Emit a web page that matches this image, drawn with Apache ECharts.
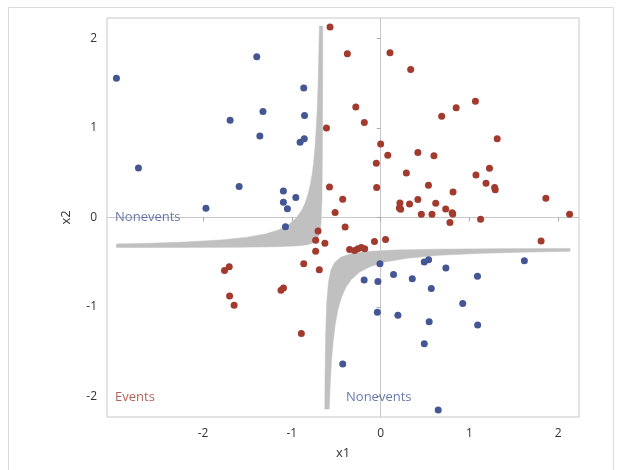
<!DOCTYPE html>
<html><head><meta charset="utf-8">
<script src="https://cdn.jsdelivr.net/npm/echarts@6/dist/echarts.min.js"></script>
<style>html,body{margin:0;padding:0;background:#fff}#c{width:624px;height:470px}</style>
</head><body><div id="c"></div>
<script>
// ---- data ----
const xTicks = [-2, -1, 0, 1, 2];
const yTicks = [-2, -1, 0, 1, 2];

const nonevents = [
  [-2.975, 1.555], [-2.727, 0.552], [-1.395, 1.797], [-1.695, 1.086], [-1.325, 1.183],
  [-1.36, 0.911], [-0.866, 1.447], [-0.857, 1.14], [-0.907, 0.84], [-0.86, 0.879],
  [-1.593, 0.344], [-1.967, 0.101], [-1.095, 0.294], [-1.095, 0.168], [-0.955, 0.222],
  [-1.05, 0.095], [-1.072, -0.105],
  [-0.008, -0.52], [-0.186, -0.701], [-0.031, -0.716], [0.145, -0.64], [0.356, -0.688],
  [0.491, -0.5], [0.54, -0.474], [0.57, -0.795], [0.734, -0.567], [1.09, -0.658],
  [1.618, -0.485], [0.924, -0.963], [-0.037, -1.06], [0.194, -1.096], [0.546, -1.168],
  [1.092, -1.205], [0.491, -1.415], [-0.427, -1.64], [0.648, -2.156]
];

const events = [
  [-0.57, 2.13], [-0.375, 1.83], [0.105, 1.84], [0.338, 1.655], [-0.28, 1.235],
  [-0.184, 1.06], [-0.61, 1.0], [0.687, 1.13], [0.85, 1.225], [1.067, 1.3],
  [1.312, 0.88], [0.0, 0.82], [0.08, 0.695], [-0.049, 0.605], [0.419, 0.725],
  [0.6, 0.69], [0.289, 0.495], [1.073, 0.475], [1.225, 0.55], [1.186, 0.383],
  [1.283, 0.335], [1.29, 0.31], [0.538, 0.36], [0.815, 0.285], [-0.045, 0.335],
  [-0.576, 0.34], [-0.427, 0.202], [0.217, 0.162], [0.21, 0.105], [0.225, 0.09],
  [0.325, 0.15], [0.419, 0.2], [0.62, 0.157], [0.458, 0.036], [0.578, 0.036],
  [0.732, 0.093], [0.805, 0.052], [0.812, 0.038], [0.78, -0.058], [1.125, -0.022],
  [1.86, 0.215], [2.127, 0.036], [1.806, -0.263], [-0.513, 0.054], [-0.4, -0.108],
  [-0.705, -0.153], [-0.732, -0.256], [-0.628, -0.29], [-0.732, -0.38], [-0.07, -0.27],
  [0.055, -0.248], [-0.35, -0.36], [-0.293, -0.372], [-0.256, -0.352], [-0.218, -0.336],
  [-0.18, -0.35], [-0.691, -0.587], [-0.866, -0.518], [-1.758, -0.595], [-1.705, -0.553],
  [-1.701, -0.879], [-1.65, -0.982], [-1.122, -0.815], [-1.094, -0.79], [-0.893, -1.3]
];

// gray band outlines (vertices)
const bandUpperLeft = [
  [-0.690, 2.14], [-0.697, 1.8], [-0.704, 1.5], [-0.715, 1.2], [-0.725, 1.0],
  [-0.738, 0.8], [-0.756, 0.6], [-0.772, 0.48], [-0.793, 0.36], [-0.817, 0.26],
  [-0.85, 0.16], [-0.886, 0.084], [-0.95, -0.007], [-1.03, -0.077], [-1.15, -0.14],
  [-1.3, -0.186], [-1.5, -0.222], [-1.8, -0.253], [-2.2, -0.275], [-2.6, -0.289],
  [-2.974, -0.297],
  [-2.974, -0.337], [-2.2, -0.336], [-1.6, -0.334], [-1.2, -0.329], [-0.95, -0.32],
  [-0.82, -0.305], [-0.75, -0.28], [-0.71, -0.24], [-0.69, -0.19], [-0.68, -0.14],
  [-0.672, -0.067], [-0.661, 0.2], [-0.656, 0.7], [-0.653, 1.4], [-0.652, 2.14]
];
const bandLowerRight = [
  [-0.579, -2.144], [-0.567, -1.85], [-0.553, -1.6], [-0.535, -1.39], [-0.512, -1.2],
  [-0.481, -1.03], [-0.44, -0.89], [-0.39, -0.78], [-0.33, -0.695], [-0.24, -0.615],
  [-0.12, -0.552], [0.05, -0.499], [0.3, -0.457], [0.65, -0.425], [1.1, -0.403],
  [1.6, -0.389], [2.132, -0.380],
  [2.132, -0.347], [1.3, -0.350], [0.6, -0.356], [0.15, -0.365], [-0.15, -0.381],
  [-0.33, -0.405], [-0.45, -0.445], [-0.52, -0.507], [-0.56, -0.59], [-0.587, -0.717],
  [-0.607, -0.95], [-0.619, -1.3], [-0.626, -1.75], [-0.629, -2.144]
];

const labelTexts = ['Nonevents', 'Events', 'Nonevents'];
const labelX = [-2.99, -2.99, -0.39];
const labelY = [0.0, -2.01, -2.01];
const labelGroup = ['non', 'ev', 'non'];

// ---- styles ----
const BLUE = '#445694', RED = '#A23A2E', BAND = '#c0c0c0';
const FONT = '"Open Sans", "DejaVu Sans", sans-serif';
const AXC = '#c8c8c8';

function bandSeries(pts) {
  return {
    type: 'custom', silent: true, z: 1, clip: true,
    data: [pts[0]],
    renderItem: function (params, api) {
      return {
        type: 'polygon',
        shape: { points: pts.map(function (p) { return api.coord(p); }) },
        style: { fill: BAND, stroke: BAND, lineWidth: 0.5 }
      };
    }
  };
}

const chart = echarts.init(document.getElementById('c'), null, { renderer: 'canvas' });
chart.setOption({
  animation: false,
  backgroundColor: '#fff',
  graphic: [{
    type: 'rect', silent: true, z: -10,
    shape: { x: 8.5, y: 7.5, width: 605, height: 480 },
    style: { fill: 'none', stroke: '#dadada', lineWidth: 1 }
  }],
  grid: { left: 107, top: 18, width: 472, height: 399, show: true, borderColor: AXC, borderWidth: 1 },
  xAxis: {
    type: 'value', min: -3.081, max: 2.233,
    name: 'x1', nameLocation: 'middle', nameGap: 30,
    nameTextStyle: { fontFamily: FONT, fontSize: 13, color: '#333' },
    axisLine: { show: true, lineStyle: { color: AXC } },
    axisTick: { show: true, length: 4, lineStyle: { color: '#aaa' }, customValues: xTicks },
    axisLabel: { customValues: xTicks, fontFamily: FONT, fontSize: 12, color: '#333', margin: 11 },
    splitLine: { show: false }
  },
  yAxis: {
    type: 'value', min: -2.233, max: 2.23,
    name: 'x2', nameLocation: 'middle', nameGap: 34, nameRotate: 90,
    nameTextStyle: { fontFamily: FONT, fontSize: 13, color: '#333' },
    axisLine: { show: true, lineStyle: { color: AXC } },
    axisTick: { show: true, length: 4, lineStyle: { color: '#aaa' }, customValues: yTicks },
    axisLabel: { customValues: yTicks, fontFamily: FONT, fontSize: 12, color: '#333', margin: 10 },
    splitLine: { show: false }
  },
  series: [
    bandSeries(bandUpperLeft),
    bandSeries(bandLowerRight),
    { type: 'scatter', name: 'Nonevents', data: nonevents, symbolSize: 7, z: 3,
      itemStyle: { color: BLUE, opacity: 1 } },
    { type: 'scatter', name: 'Events', data: events, symbolSize: 7, z: 3,
      itemStyle: { color: RED, opacity: 1 } },
    { type: 'scatter', silent: true, z: 4, symbolSize: 0,
      data: labelTexts.map(function (t, i) {
        return { value: [labelX[i], labelY[i]], name: t,
          label: { color: labelGroup[i] === 'ev' ? RED : BLUE } };
      }),
      label: { show: true, position: 'right', distance: 0, formatter: '{b}',
        fontFamily: FONT, fontSize: 13 }
    }
  ]
});
</script></body></html>
